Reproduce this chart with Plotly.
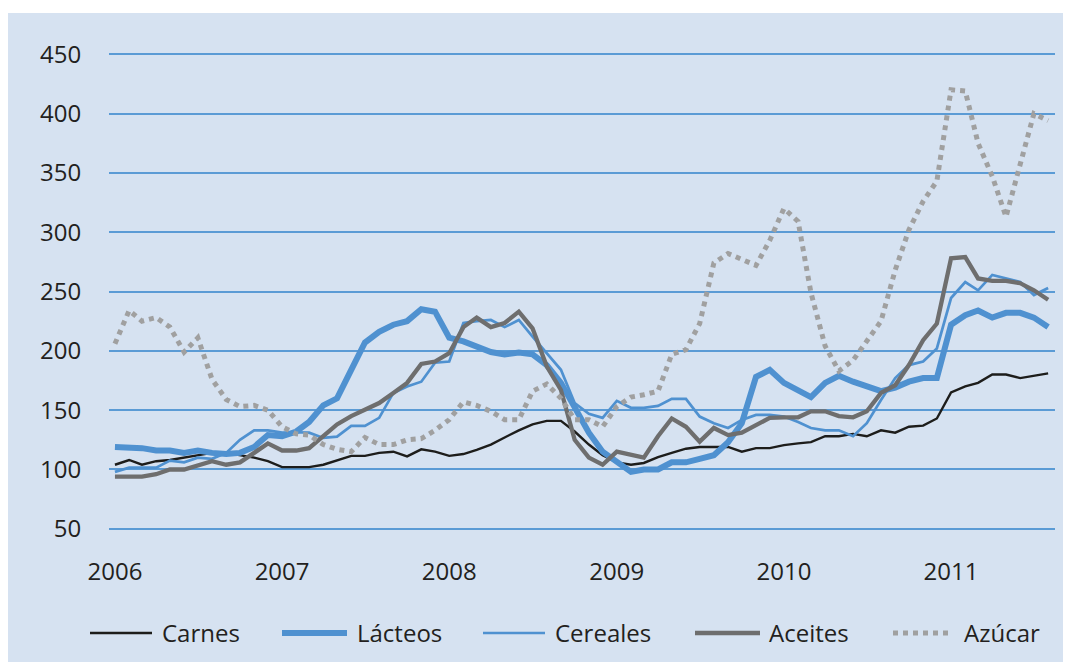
import pandas as pd
import plotly.graph_objects as go

# ---------------- data ----------------
months = pd.date_range("2006-01-01", periods=68, freq="MS")
years = ["2006", "2007", "2008", "2009", "2010", "2011"]
series_names = ["Carnes", "Lácteos", "Cereales", "Aceites", "Azúcar"]

carnes = [104, 108, 104, 107, 108, 110, 112, 114, 114, 112, 110, 107,
          102, 102, 102, 104, 108, 111.5, 111.5, 114, 115, 111, 117, 115,
          111.5, 113, 116.5, 121, 127, 133, 138, 141, 141, 132, 121, 112,
          106, 104, 105.5, 110.5, 114, 117.5, 119, 119, 119, 115, 118, 118,
          120.5, 122, 123, 128, 128, 130, 128, 133, 131, 136,
          137, 143, 165, 170, 173, 180, 180, 177, 179, 181]

lacteos = [119, 119, 118, 116, 116, 114, 116, 114, 113, 114, 119, 129,
           128, 132, 140, 154, 160, 184, 207, 216, 222, 225, 235, 233,
           211, 208, 204, 199, 197, 198.5, 197, 188, 173, 153, 131, 115,
           106, 98, 100, 100, 106, 106, 109, 112, 123, 139, 178, 184,
           173, 166, 161, 173, 179, 174, 170, 166, 169, 174,
           177, 177, 222, 230, 234, 228, 232, 232, 228, 220]

cereales = [98, 101.6, 101.6, 101.6, 107.5, 106, 110, 109, 114, 125, 133, 133,
            131, 131.4, 131, 126.6, 127.7, 136.7, 136.7, 143.5, 164.5, 170, 174, 190,
            191, 223.5, 225, 226, 220, 226, 212, 198, 184, 156, 147, 143.5,
            157.8, 152, 152, 153.6, 159.5, 159.5, 144.6, 139, 135, 141.8, 146, 146,
            144.6, 140, 135, 133, 133, 128, 139, 158.6, 177, 188,
            191, 202, 244.5, 258, 251, 264, 261, 258, 247, 253]

aceites = [94, 94, 94, 96, 100, 100, 103, 107, 104, 106, 114, 122,
           116, 116, 118, 128, 138, 145, 150, 156, 164.5, 173, 189, 191,
           198, 220, 228, 220, 223.5, 233, 219, 187, 167, 125, 110, 104,
           115, 112, 110, 128, 143, 136, 123.5, 135, 129, 131, 137.6, 143.5,
           144, 144, 149, 149, 145, 144, 149, 164.5, 171, 188,
           209, 223, 278, 279, 261, 259, 259, 257, 251, 243]

azucar = [206, 234, 225, 228, 220, 199, 211, 176, 159, 153, 154, 150,
          136, 130, 129, 121, 117, 115, 127, 121, 121, 125, 126, 133,
          142, 157, 154, 149, 142, 142, 166, 172, 160, 142, 142, 136,
          153, 161, 163, 166, 197, 201, 223, 274, 282, 277, 272, 293,
          320, 309, 249, 204, 183, 192, 209, 225, 268, 302,
          326, 343, 420, 419, 375, 347, 313, 358, 400, 394]

values = [carnes, lacteos, cereales, aceites, azucar]

# ---------------- styles ----------------
BLUE = "#4f91d0"
styles = [
    dict(color="#1d1d1b", width=2.4, dash="solid"),
    dict(color=BLUE, width=6, dash="solid"),
    dict(color=BLUE, width=2.7, dash="solid"),
    dict(color="#6e6e6e", width=4.3, dash="solid"),
    dict(color="#a0a0a0", width=5, dash="5px,5px"),
]
FONT = "Open Sans, Noto Sans, sans-serif"
TXT = "#231f20"

# the page body adds an 8px offset; size the figure so the page matches
OFF = 8
W, H = 1071 - OFF, 662 - OFF
ML, MR, MT, MB = 109 - OFF, 16, 53 - OFF, 132
PW, PH = W - ML - MR, H - MT - MB


def px(x):
    """reference page pixel -> paper x"""
    return (x - OFF - ML) / PW


def py(y):
    """reference page pixel -> paper y"""
    return (H - MB - (y - OFF)) / PH


fig = go.Figure()
for name, vals, st in zip(series_names, values, styles):
    fig.add_trace(go.Scatter(x=months, y=vals, mode="lines", name=name,
                             line=dict(color=st["color"], width=st["width"],
                                       dash=st["dash"]),
                             showlegend=False, hoverinfo="x+y+name"))

shapes = [dict(type="rect", xref="paper", yref="paper", layer="below",
               x0=px(7), x1=px(1080), y0=py(670), y1=py(13),
               fillcolor="#d6e2f1", line=dict(width=0))]
annotations = []

# manual legend
leg_y = 633
leg_items = [(90, 152, 160), (282, 347, 355), (483, 545, 553),
             (695, 760, 767), (893, 953, 962)]
for (x0, x1, xt), name, st in zip(leg_items, series_names, styles):
    shapes.append(dict(type="line", xref="paper", yref="paper",
                       x0=px(x0), x1=px(x1), y0=py(leg_y), y1=py(leg_y),
                       line=dict(color=st["color"], width=st["width"],
                                 dash=st["dash"])))
    annotations.append(dict(xref="paper", yref="paper", x=px(xt), y=py(leg_y),
                            xanchor="left", yanchor="middle", showarrow=False,
                            text=name, font=dict(family=FONT, size=24, color=TXT)))

fig.update_layout(
    width=W, height=H,
    margin=dict(l=ML, r=MR, t=MT, b=MB, pad=0),
    paper_bgcolor="white",
    plot_bgcolor="rgba(0,0,0,0)",
    shapes=shapes,
    annotations=annotations,
    showlegend=False,
    font=dict(family=FONT, size=24, color=TXT),
    xaxis=dict(
        type="date",
        range=["2005-12-19", "2011-08-16"],
        tickvals=[f"{y}-01-01" for y in years],
        ticktext=years,
        showgrid=False, zeroline=False, showline=False,
        ticks="outside", ticklen=20, tickcolor="rgba(0,0,0,0)",
        tickfont=dict(family=FONT, size=24, color=TXT),
        automargin=False, fixedrange=True,
    ),
    yaxis=dict(
        range=[49, 451],
        tickvals=[50, 100, 150, 200, 250, 300, 350, 400, 450],
        showgrid=True, gridcolor="#5b9bd5", gridwidth=1.5,
        zeroline=False, showline=False,
        ticks="outside", ticklen=22, tickcolor="rgba(0,0,0,0)",
        tickfont=dict(family=FONT, size=24, color=TXT),
        automargin=False, fixedrange=True,
    ),
)

fig.write_html("out.html")
